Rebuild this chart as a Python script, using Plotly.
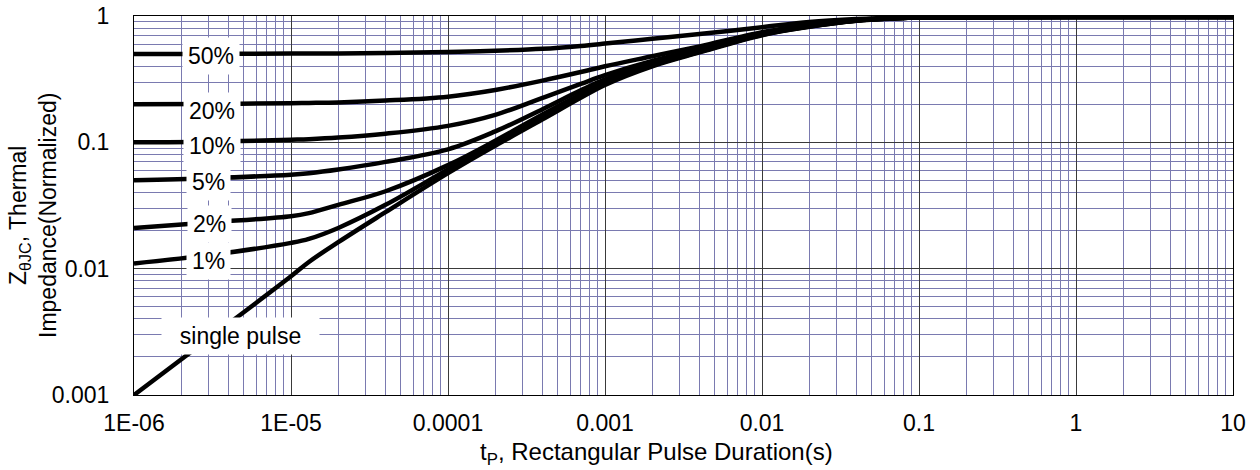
import plotly.graph_objects as go

# Pulse duration grid (s)
t_pulse = [1e-6, 3e-6, 1e-5, 1.3e-5, 2e-5, 4e-5, 1e-4, 2e-4, 4e-4, 7e-4, 1e-3,
           2e-3, 4e-3, 1e-2, 2e-2, 4e-2, 7e-2, 0.1, 1, 10]

# Normalized transient thermal impedance per duty cycle
z_d50 = [0.500, 0.501, 0.504, 0.505, 0.506, 0.510, 0.518, 0.530, 0.550, 0.580, 0.605,
         0.660, 0.720, 0.815, 0.895, 0.945, 0.970, 0.978, 0.980, 0.980]
z_d20 = [0.200, 0.201, 0.204, 0.205, 0.207, 0.214, 0.230, 0.260, 0.308, 0.360, 0.400,
         0.480, 0.575, 0.745, 0.850, 0.930, 0.963, 0.975, 0.980, 0.980]
z_d10 = [0.100, 0.101, 0.105, 0.106, 0.109, 0.117, 0.135, 0.165, 0.225, 0.290, 0.340,
         0.440, 0.543, 0.725, 0.838, 0.925, 0.960, 0.974, 0.980, 0.980]
z_d5 = [0.050, 0.052, 0.0555, 0.057, 0.061, 0.070, 0.088, 0.122, 0.183, 0.258, 0.315,
        0.422, 0.532, 0.720, 0.832, 0.922, 0.960, 0.973, 0.980, 0.980]
z_d2 = [0.021, 0.0232, 0.026, 0.0275, 0.032, 0.041, 0.066, 0.103, 0.166, 0.240, 0.300,
        0.412, 0.525, 0.715, 0.828, 0.920, 0.958, 0.973, 0.980, 0.980]
z_d1 = [0.011, 0.0128, 0.016, 0.0172, 0.021, 0.032, 0.061, 0.098, 0.158, 0.232, 0.292,
        0.405, 0.520, 0.710, 0.825, 0.918, 0.957, 0.972, 0.980, 0.980]
z_single = [0.001, 0.0028, 0.0087, 0.0113, 0.0162, 0.028, 0.057, 0.094, 0.152, 0.225, 0.285,
            0.400, 0.515, 0.705, 0.820, 0.915, 0.956, 0.972, 0.980, 0.980]

series_names = ["50%", "20%", "10%", "5%", "2%", "1%", "single pulse"]
series_values = [z_d50, z_d20, z_d10, z_d5, z_d2, z_d1, z_single]

x_tickvals = [1e-6, 1e-5, 1e-4, 1e-3, 1e-2, 1e-1, 1, 10]
x_ticktext = ["1E-06", "1E-05", "0.0001", "0.001", "0.01", "0.1", "1", "10"]
y_tickvals = [0.001, 0.01, 0.1, 1]
y_ticktext = ["0.001", "0.01", "0.1", "1"]

W, H = 1260, 470
L, R, T, B = 134, 27, 16, 75
FONT = "Liberation Sans, Arial, sans-serif"


def px_to_paper(xp, yp):
    return (xp - L) / (W - L - R), (H - B - yp) / (H - T - B)


def minor_vals(lo_exp, hi_exp):
    return [m * 10.0 ** e for e in range(lo_exp, hi_exp) for m in range(2, 10)]


fig = go.Figure()
for name, vals in zip(series_names, series_values):
    fig.add_trace(go.Scatter(
        x=t_pulse, y=vals, name=name, mode="lines",
        line=dict(color="black", width=4.5, shape="spline", smoothing=1.0),
        showlegend=False, hoverinfo="skip",
    ))

axis_common = dict(
    type="log", automargin=False,
    showline=True, linecolor="black", linewidth=1, mirror=True,
    showgrid=True, gridcolor="#3a3a3a", gridwidth=1,
    ticks="", tickmode="array",
    tickfont=dict(family=FONT, size=23, color="black"),
    zeroline=False,
)

fig.update_xaxes(
    **axis_common, range=[-6, 1],
    tickvals=x_tickvals, ticktext=x_ticktext, ticklabelstandoff=7,
    minor=dict(tickmode="array", tickvals=minor_vals(-6, 1),
               showgrid=True, gridcolor="#7a7ab0", gridwidth=1, ticks=""),
)
fig.update_yaxes(
    **axis_common, range=[-3, 0],
    tickvals=y_tickvals, ticktext=y_ticktext, ticklabelstandoff=19,
    minor=dict(tickmode="array", tickvals=minor_vals(-3, 0),
               showgrid=True, gridcolor="#7a7ab0", gridwidth=1, ticks=""),
)

# Duty-cycle labels on white boxes
label_pos = {
    "50%": (211, 56), "20%": (212, 111), "10%": (212, 146), "5%": (208, 182),
    "2%": (209, 224), "1%": (208, 261), "single pulse": (240, 336),
}
for name in series_names:
    xp, yp = label_pos[name]
    ax_, ay_ = px_to_paper(xp, yp)
    text = name if name != "single pulse" else "&nbsp;&nbsp;single pulse&nbsp;&nbsp;"
    fig.add_annotation(
        x=ax_, y=ay_, xref="paper", yref="paper", text=text, showarrow=False,
        xanchor="center", yanchor="middle", bgcolor="white", borderpad=5,
        font=dict(family=FONT, size=23, color="black"),
    )

# Axis titles
tx, ty = px_to_paper(656, 453)
fig.add_annotation(
    x=tx, y=ty, xref="paper", yref="paper", showarrow=False,
    text="t<sub>P</sub>, Rectangular Pulse Duration(s)",
    xanchor="center", yanchor="middle",
    font=dict(family=FONT, size=24, color="black"),
)
yx, yy = px_to_paper(33, 216)
fig.add_annotation(
    x=yx, y=yy, xref="paper", yref="paper", showarrow=False, textangle=-90,
    text="Z<sub>θJC</sub>, Thermal<br>Impedance(Normalized)",
    xanchor="center", yanchor="middle",
    font=dict(family=FONT, size=23, color="black"),
)

fig.update_layout(
    width=W, height=H,
    margin=dict(l=L, r=R, t=T, b=B, pad=0, autoexpand=False),
    paper_bgcolor="white", plot_bgcolor="white",
    showlegend=False,
)

fig.write_html("out.html")
